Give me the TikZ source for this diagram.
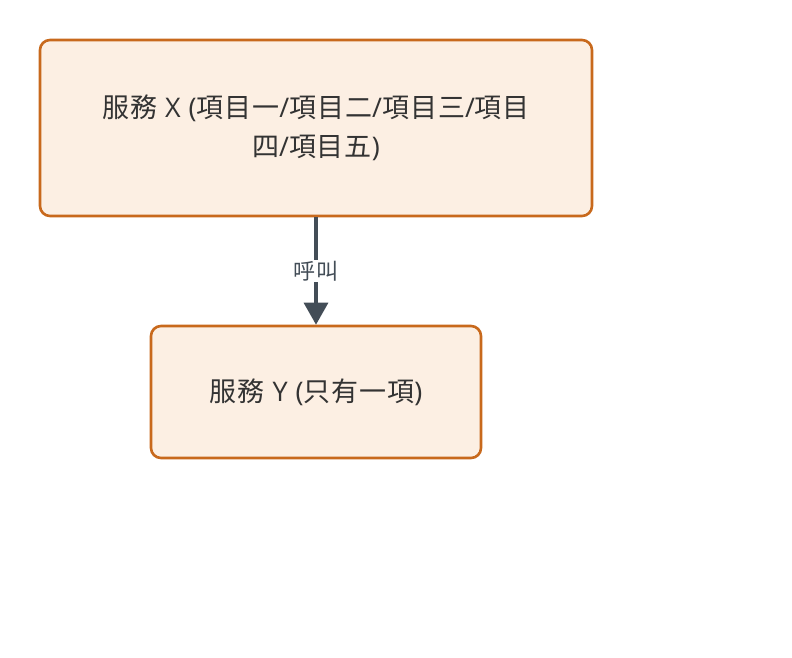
\documentclass[tikz,border=0pt]{standalone}
\usepackage{fontspec}
\setmainfont{Noto Sans CJK TC}[LetterSpace=3.5]
\newfontfamily\latfont{Open Sans}[LetterSpace=3.5]
\newcommand{\lt}[1]{{\latfont #1}}
\usetikzlibrary{arrows.meta}
\definecolor{boxfill}{HTML}{FCEFE3}
\definecolor{boxdraw}{HTML}{C8691C}
\definecolor{linecol}{HTML}{434D57}
\definecolor{txt}{HTML}{333333}
\tikzset{
  svcbox/.style={draw=boxdraw, fill=boxfill, line width=2.6pt, rounded corners=10pt, text=txt, align=center, font=\fontsize{27}{39}\selectfont, inner sep=0pt},
  callarrow/.style={draw=linecol, line width=3.2pt, -{Triangle[length=22pt,width=24pt]}},
  lbl/.style={fill=white, text=linecol, font=\fontsize{22}{24}\selectfont, inner sep=1pt}
}
\begin{document}
\begin{tikzpicture}[x=1pt,y=-1pt]
\useasboundingbox (0,0) rectangle (792,658);
\node[svcbox, minimum width=552pt, minimum height=176pt] (x) at (316,128) {服務\lt{ X (}項目一\lt{/}項目二\lt{/}項目三\lt{/}項目\\四\lt{/}項目五\lt{)}};
\node[svcbox, minimum width=330pt, minimum height=132pt] (y) at (316,392) {服務\lt{ Y (}只有一項\lt{)}};
\draw[callarrow] (x.south) -- node[lbl] (l) {呼叫} (y.north);
\end{tikzpicture}
\end{document}
